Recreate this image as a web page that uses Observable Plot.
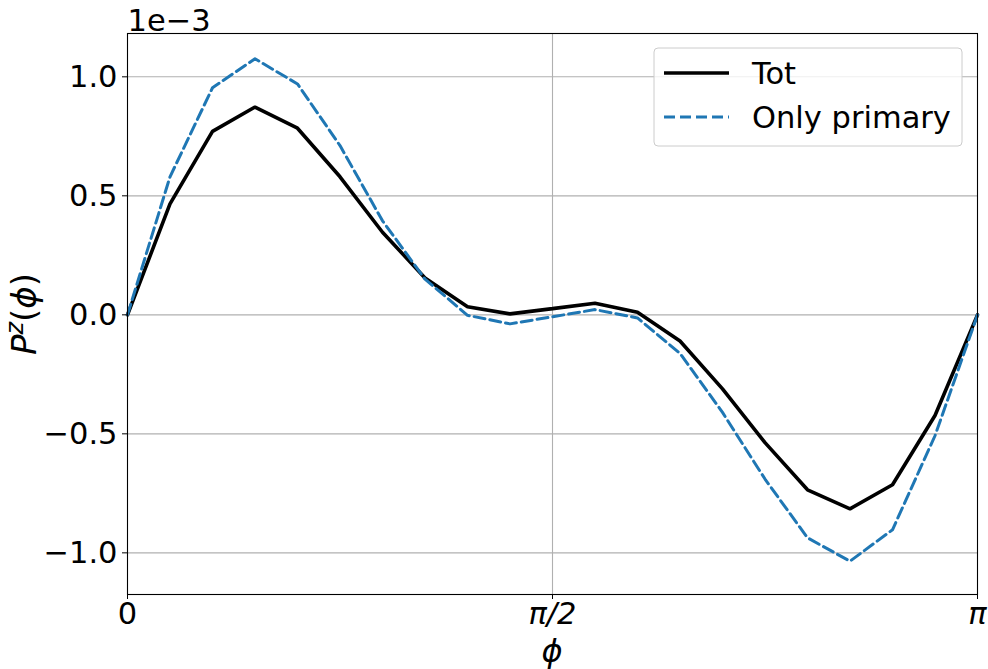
<!DOCTYPE html>
<html>
<head>
<meta charset="utf-8">
<script src="https://cdn.jsdelivr.net/npm/d3@7"></script>
<script src="https://cdn.jsdelivr.net/npm/@observablehq/plot@0.6"></script>
<style>
  html, body { margin: 0; padding: 0; background: #fff; }
  #chart { width: 988px; height: 669px; }
</style>
</head>
<body>
<div id="chart"></div>
<script>
// phi positions as fractions of pi
const phiOverPi = [0, 0.05, 0.1, 0.15, 0.2, 0.25, 0.3, 0.35, 0.4, 0.45, 0.5,
                   0.55, 0.6, 0.65, 0.7, 0.75, 0.8, 0.85, 0.9, 0.95, 1];
// values in units of 1e-3
const totValues = [0, 0.466, 0.771, 0.873, 0.784, 0.580, 0.347, 0.155, 0.034, 0.004, 0.026,
                   0.049, 0.011, -0.110, -0.311, -0.537, -0.735, -0.815, -0.714, -0.423, 0];
const primaryValues = [0, 0.580, 0.954, 1.076, 0.970, 0.711, 0.395, 0.150, -0.002, -0.038, -0.008,
                       0.022, -0.013, -0.162, -0.410, -0.690, -0.937, -1.035, -0.903, -0.508, 0];
const seriesNames = ["Tot", "Only primary"];
const yTickValues = [-1.0, -0.5, 0.0, 0.5, 1.0];
const xTickFracs = [0, 0.5, 1];
const xTickLabels = ["0", "π/2", "π"];

const PI = Math.PI;
const tot = phiOverPi.map((f, i) => ({x: f * PI, y: totValues[i]}));
const prim = phiOverPi.map((f, i) => ({x: f * PI, y: primaryValues[i]}));
const xTicks = xTickFracs.map(f => f * PI);
const FS = 30.5;

const chart = Plot.plot({
  width: 988,
  height: 669,
  marginLeft: 127,
  marginRight: 11,
  marginTop: 33,
  marginBottom: 75,
  style: {fontFamily: "'DejaVu Sans', sans-serif", fontSize: FS + "px", background: "#fff", color: "#000"},
  x: {domain: [0, PI]},
  y: {domain: [-1.175, 1.182]},
  marks: [
    Plot.gridY(yTickValues, {stroke: "#b0b0b0", strokeOpacity: 1, strokeWidth: 1.1}),
    Plot.gridX([xTicks[1]], {stroke: "#b0b0b0", strokeOpacity: 1, strokeWidth: 1.1}),
    Plot.line(tot, {x: "x", y: "y", stroke: "#000", strokeWidth: 3.6, strokeLinejoin: "miter"}),
    Plot.line(prim, {x: "x", y: "y", stroke: "#1f77b4", strokeWidth: 3, strokeDasharray: "11,5", strokeLinejoin: "round"}),
    Plot.frame({stroke: "#000", strokeWidth: 1.1}),
    Plot.axisY(yTickValues, {tickSize: 5, tickPadding: 5, fontSize: FS, label: null,
      tickFormat: d => d3.format(".1f")(d)}),
    Plot.axisX(xTicks, {tickSize: 5, tickPadding: 3, fontSize: FS, label: null,
      tickFormat: (d, i) => xTickLabels[i]}),
    Plot.text(["1e−3"], {frameAnchor: "top-left", textAnchor: "start", lineAnchor: "bottom", dy: -3, fontSize: FS})
  ]
});

document.getElementById("chart").appendChild(chart);

const svg = d3.select(chart);
// italic pi tick labels (mathtext)
svg.selectAll("text").filter(function() { return this.textContent.includes("π"); })
  .attr("font-style", "italic");

// y axis label
const yl = svg.append("text")
  .attr("transform", "translate(36,314) rotate(-90)")
  .attr("text-anchor", "middle")
  .attr("font-size", 34)
  .attr("font-style", "italic")
  .attr("fill", "#000");
yl.append("tspan").text("P");
yl.append("tspan").attr("font-size", 24).attr("dy", -13).text("z");
yl.append("tspan").attr("dy", 13).attr("font-style", "normal").text("(");
yl.append("tspan").text("ϕ");
yl.append("tspan").attr("font-style", "normal").text(")");

// x axis label
svg.append("text")
  .attr("x", 552).attr("y", 662)
  .attr("text-anchor", "middle")
  .attr("font-size", 32)
  .attr("font-style", "italic")
  .attr("fill", "#000")
  .text("ϕ");

// legend
const lg = svg.append("g").attr("text-anchor", "start");
lg.append("rect").attr("x", 654).attr("y", 48).attr("width", 308).attr("height", 98)
  .attr("rx", 4).attr("fill", "#fff").attr("fill-opacity", 0.8).attr("stroke", "#cccccc").attr("stroke-width", 1);
const legendStyles = [
  {stroke: "#000", width: 3.6, dash: null},
  {stroke: "#1f77b4", width: 3, dash: "11,5"}
];
seriesNames.forEach((name, i) => {
  const y = 73 + i * 44;
  const st = legendStyles[i];
  const ln = lg.append("line").attr("x1", 664).attr("x2", 729).attr("y1", y).attr("y2", y)
    .attr("stroke", st.stroke).attr("stroke-width", st.width);
  if (st.dash) ln.attr("stroke-dasharray", st.dash);
  lg.append("text").attr("x", 752).attr("y", y).attr("dy", "0.35em")
    .attr("text-anchor", "start")
    .attr("font-size", FS).attr("fill", "#000").text(name);
});
</script>
</body>
</html>
